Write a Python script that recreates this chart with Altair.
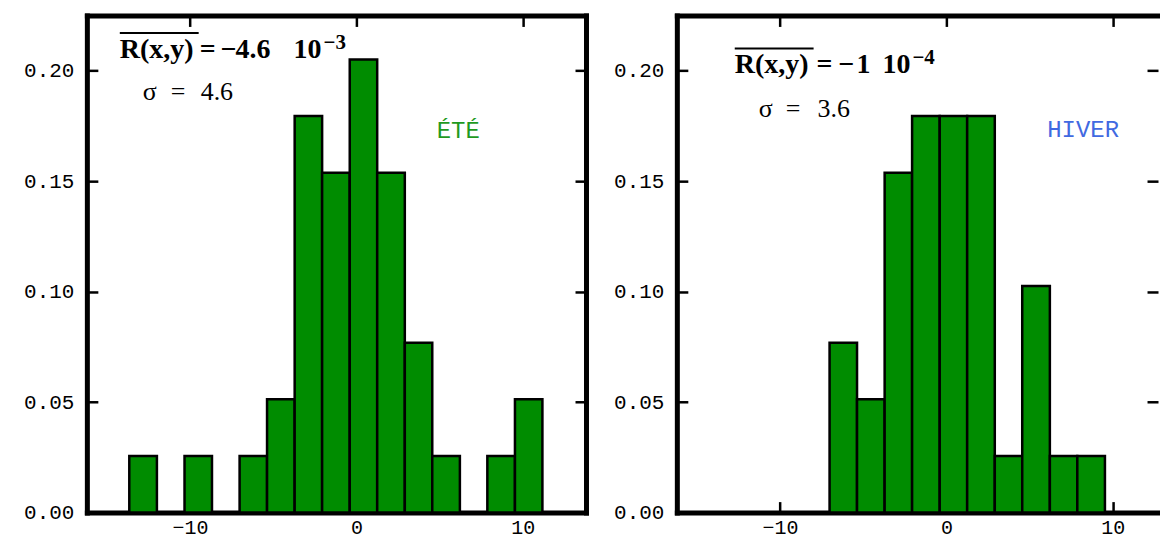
import altair as alt
import pandas as pd

# ---- data -------------------------------------------------------------
BIN_EDGES = [-13.65, -11.99, -10.33, -8.68, -7.02, -5.37, -3.71, -2.06,
             -0.40, 1.25, 2.91, 4.56, 6.22, 7.87, 9.53, 11.18]
ETE_FRAC = [0.0256, 0.0, 0.0256, 0.0, 0.0256, 0.0513, 0.1795, 0.1538,
            0.2051, 0.1538, 0.0769, 0.0256, 0.0, 0.0256, 0.0513]
HIVER_FRAC = [0.0, 0.0, 0.0, 0.0, 0.0769, 0.0513, 0.1538, 0.1795,
              0.1795, 0.1795, 0.0256, 0.1026, 0.0256, 0.0256, 0.0]
X_TICKS = [-10, 0, 10]
Y_TICKS = [0.0, 0.05, 0.10, 0.15, 0.20]
X_DOMAIN_LEFT = [-16.2, 13.8]
X_DOMAIN_RIGHT = [-16.2, 12.72]
Y_DOMAIN = [0, 0.225]

ETE_TEXT = ["R(x,y)", "=", "\u2212", "4.6", "10", "\u22123", "\u03c3", "=", "4.6", "ÉTÉ"]
HIVER_TEXT = ["R(x,y)", "=", "\u2212", "1", "10", "\u22124", "\u03c3", "=", "3.6", "HIVER"]

GREEN = "#008c00"
H = 498
MONO = "Liberation Mono"
SERIF = "Liberation Serif"
FRAME = 5


def txt(t, x, y, size, weight="normal", font=SERIF, color="black", align="left"):
    return alt.Chart(pd.DataFrame({"t": [t]})).mark_text(
        align=align, baseline="alphabetic", font=font, fontSize=size,
        fontWeight=weight, color=color
    ).encode(x=alt.value(x), y=alt.value(y), text="t:N")


def panel(fracs, texts, pos, label_color, xdom, width, right_frame):
    df = pd.DataFrame({"start": BIN_EDGES[:-1], "end": BIN_EDGES[1:], "frac": fracs})
    df = df[df["frac"] > 0]
    base = alt.Chart(df)
    xs = alt.Scale(domain=xdom, nice=False, zero=False)
    ys = alt.Scale(domain=Y_DOMAIN, nice=False, zero=False)
    dom = dict(domain=True, domainWidth=FRAME, domainColor="black", domainCap="square")

    bars = base.mark_bar(color=GREEN, stroke="black", strokeWidth=2.5).encode(
        x=alt.X("start:Q", scale=xs, axis=alt.Axis(
            orient="bottom", values=X_TICKS, ticks=False, grid=False,
            title=None, labelPadding=5, labelFont=MONO, labelFontSize=20,
            labelColor="black", **dom)),
        x2="end:Q",
        y=alt.Y("frac:Q", scale=ys, axis=alt.Axis(
            orient="left", values=Y_TICKS, format=".2f", ticks=False,
            grid=False, title=None, labelPadding=13, labelFont=MONO, labelFontSize=21,
            labelColor="black", minExtent=78, maxExtent=78, **dom)),
        y2=alt.datum(0),
    )

    def tick_layer(xo, yo):
        return base.mark_point(opacity=0).encode(
            x=alt.X("start:Q", scale=xs, axis=alt.Axis(
                orient=xo, values=X_TICKS, labels=False, domain=False, grid=False,
                title=None, tickSize=11, tickWidth=2.5, tickColor="black",
                offset=-11, minExtent=0, maxExtent=0)),
            y=alt.Y("frac:Q", scale=ys, axis=alt.Axis(
                orient=yo, values=Y_TICKS, labels=False, domain=False, grid=False,
                title=None, tickSize=11, tickWidth=2.5, tickColor="black",
                offset=-11, minExtent=0, maxExtent=0)),
        )

    frame_enc = dict(x=alt.X("start:Q", scale=xs, axis=alt.Axis(
        orient="top", ticks=False, labels=False, grid=False, title=None,
        minExtent=0, maxExtent=0, **dom)))
    if right_frame:
        frame_enc["y"] = alt.Y("frac:Q", scale=ys, axis=alt.Axis(
            orient="right", ticks=False, labels=False, grid=False, title=None,
            minExtent=0, maxExtent=0, **dom))
    frame = base.mark_point(opacity=0).encode(**frame_enc)

    p = pos
    overline = alt.Chart(pd.DataFrame({"a": [0]})).mark_rule(
        color="black", strokeWidth=2).encode(
        x=alt.value(p["ol"][0]), x2=alt.value(p["ol"][1]), y=alt.value(p["ol"][2]))

    layers = [bars, tick_layer("bottom", "left"), tick_layer("top", "right"), frame, overline]
    for i, t in enumerate(texts[:9]):
        x, y, size, weight = p["t"][i]
        layers.append(txt(t, x, y, size, weight))
    lx, ly = p["label"]
    layers.append(txt(texts[9], lx, ly, 24, font=MONO, color=label_color, align="center"))

    return alt.layer(*layers).resolve_axis(x="independent", y="independent").properties(
        width=width, height=H)


POS_ETE = {
    "ol": (33, 112, 17.5),
    "t": [(33, 43, 28, "bold"), (113, 43, 28, "bold"), (134, 43, 28, "bold"),
          (149, 43, 28, "bold"), (207, 43, 28, "bold"), (237, 34, 21, "bold"),
          (56, 85, 26, "normal"), (84, 85, 26, "normal"), (114, 85, 26, "normal")],
    "label": (372, 123),
}
POS_HIVER = {
    "ol": (58, 137, 33),
    "t": [(58, 58, 28, "bold"), (140, 58, 28, "bold"), (162, 58, 28, "bold"),
          (180, 58, 28, "bold"), (206, 58, 28, "bold"), (236, 49, 21, "bold"),
          (82, 102, 26, "normal"), (109, 102, 26, "normal"), (141, 102, 26, "normal")],
    "label": (407, 122),
}

left = panel(ETE_FRAC, ETE_TEXT, POS_ETE, "#1f9a1f", X_DOMAIN_LEFT, 500, True)
right = panel(HIVER_FRAC, HIVER_TEXT, POS_HIVER, "#4169e1", X_DOMAIN_RIGHT, 482, False)

chart = alt.hconcat(left, right, spacing=10).properties(
    padding={"left": 0, "top": 5, "right": 0, "bottom": 0},
    background="white",
).configure_view(stroke="transparent")

chart.save("out.html", embed_options={"renderer": "svg", "actions": False})
